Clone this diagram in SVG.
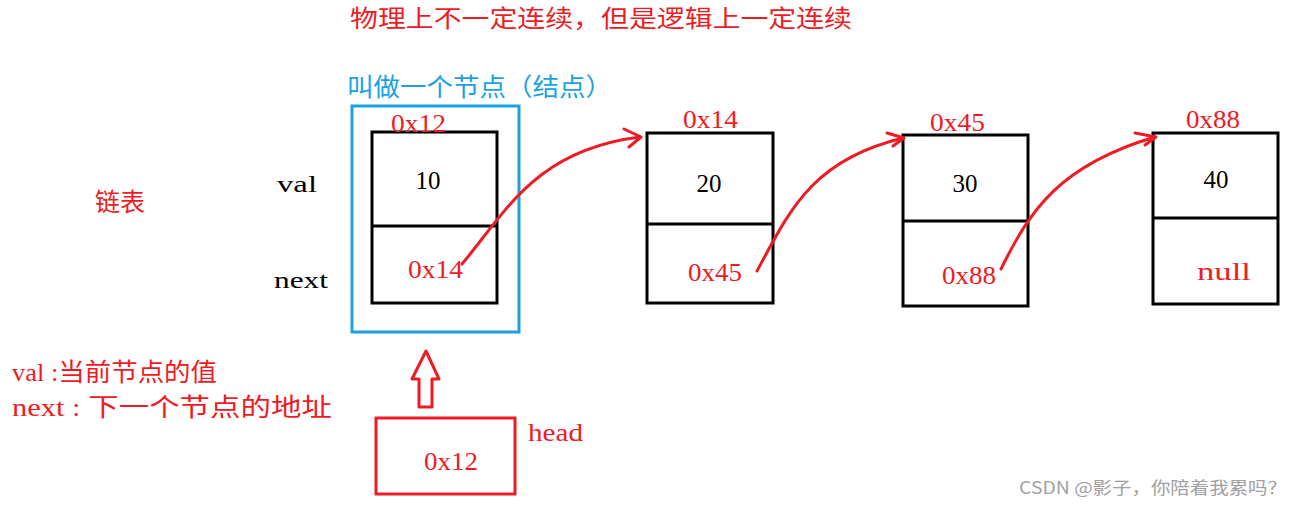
<svg xmlns="http://www.w3.org/2000/svg" width="1301" height="506" viewBox="0 0 1301 506">
<style>
.box{fill:none;stroke:#000;stroke-width:3}
.red{fill:#ED1C24;font-family:"Liberation Serif","Noto Sans CJK SC",serif}
.blk{fill:#000;font-family:"Liberation Serif","Noto Sans CJK SC",serif}
.cjk{fill:#ED1C24;font-family:"Noto Sans CJK SC",sans-serif}
.lnk{fill:none;stroke:#ED1C24;stroke-width:3;stroke-linecap:round;stroke-linejoin:round}
</style>
<rect width="1301" height="506" fill="#fff"/>
<text class="cjk" x="350" y="27" font-size="24" textLength="502" lengthAdjust="spacingAndGlyphs">物理上不一定连续，但是逻辑上一定连续</text>
<text x="347" y="96" font-size="25" fill="#1BA1E2" font-family="Noto Sans CJK SC,sans-serif" textLength="265" lengthAdjust="spacingAndGlyphs">叫做一个节点（结点）</text>
<text class="cjk" x="95" y="211" font-size="25">链表</text>
<text class="blk" x="277" y="192" font-size="24" textLength="40" lengthAdjust="spacingAndGlyphs">val</text>
<text class="blk" x="274" y="288" font-size="24" textLength="54" lengthAdjust="spacingAndGlyphs">next</text>
<g id="node-frame"><rect x="352" y="106" width="167" height="226" fill="none" stroke="#1BA1E2" stroke-width="3"/></g>
<g id="node1">
<rect class="box" x="372" y="132" width="125" height="171"/>
<line x1="372" y1="226" x2="497" y2="226" stroke="#000" stroke-width="3"/>
<text class="red" x="391" y="132" font-size="26" textLength="55" lengthAdjust="spacingAndGlyphs">0x12</text>
<text class="blk" x="428" y="189" font-size="25" text-anchor="middle">10</text>
<text class="red" x="408" y="278" font-size="26" textLength="55" lengthAdjust="spacingAndGlyphs">0x14</text>
</g>
<g id="node2">
<rect class="box" x="647" y="133" width="126" height="170"/>
<line x1="647" y1="224" x2="773" y2="224" stroke="#000" stroke-width="3"/>
<text class="red" x="683" y="128" font-size="26" textLength="55" lengthAdjust="spacingAndGlyphs">0x14</text>
<text class="blk" x="709" y="192" font-size="25" text-anchor="middle">20</text>
<text class="red" x="688" y="281" font-size="26" textLength="54" lengthAdjust="spacingAndGlyphs">0x45</text>
</g>
<g id="node3">
<rect class="box" x="903" y="135" width="125" height="171"/>
<line x1="903" y1="221" x2="1028" y2="221" stroke="#000" stroke-width="3"/>
<text class="red" x="930" y="131" font-size="26" textLength="55" lengthAdjust="spacingAndGlyphs">0x45</text>
<text class="blk" x="965" y="192" font-size="25" text-anchor="middle">30</text>
<text class="red" x="942" y="284" font-size="26" textLength="54" lengthAdjust="spacingAndGlyphs">0x88</text>
</g>
<g id="node4">
<rect class="box" x="1153" y="133" width="125" height="171"/>
<line x1="1153" y1="218" x2="1278" y2="218" stroke="#000" stroke-width="3"/>
<text class="red" x="1186" y="128" font-size="26" textLength="54" lengthAdjust="spacingAndGlyphs">0x88</text>
<text class="blk" x="1216" y="188" font-size="25" text-anchor="middle">40</text>
<text class="red" x="1197" y="280" font-size="26" textLength="54" lengthAdjust="spacingAndGlyphs">null</text>
</g>
<g id="head">
<rect x="376" y="418" width="139" height="76" fill="none" stroke="#ED1C24" stroke-width="3"/>
<text class="red" x="424" y="470" font-size="26" textLength="54" lengthAdjust="spacingAndGlyphs">0x12</text>
<text class="red" x="528" y="441" font-size="26" textLength="55" lengthAdjust="spacingAndGlyphs">head</text>
</g>
<g id="legend">
<text class="red" x="12" y="381" font-size="25" textLength="205" lengthAdjust="spacingAndGlyphs">val :当前节点的值</text>
<text class="red" x="12" y="416" font-size="25" textLength="320" lengthAdjust="spacingAndGlyphs">next : 下一个节点的地址</text>
</g>
<g id="connectors">
<path class="lnk" d="M426,351 L439,379 L432,379 L432,407 L419,407 L419,379 L412,379 Z" stroke-width="2.5"/>
<path class="lnk" d="M462,264 C505,213 535,150 640,137"/>
<path class="lnk" d="M624,129 L641,137 L629,147"/>
<path class="lnk" d="M757,271 C790,210 812,160 903,138"/>
<path class="lnk" d="M887,133 L904,138 L893,146"/>
<path class="lnk" d="M1001,269 C1030,210 1060,165 1155,137"/>
<path class="lnk" d="M1135,133 L1156,137 L1145,145"/>
</g>
<text x="1019" y="494" font-size="17" fill="#A0A0A0" font-family="'Noto Sans CJK SC',sans-serif" textLength="268" lengthAdjust="spacingAndGlyphs">CSDN @影子，你陪着我累吗？</text>
</svg>
